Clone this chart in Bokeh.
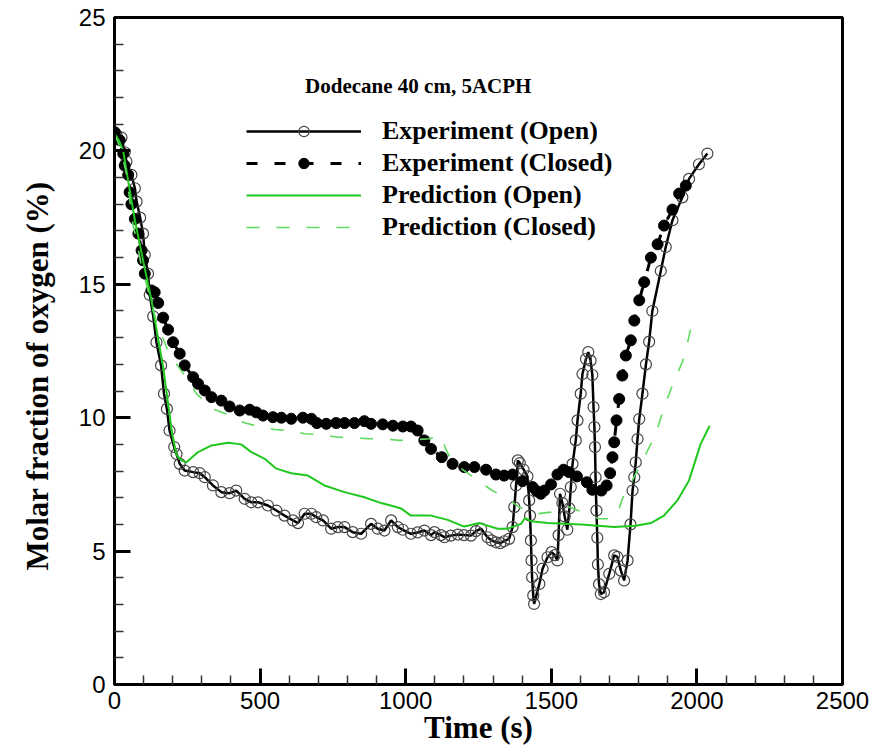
from bokeh.plotting import figure
from bokeh.models import Range1d, FixedTicker, Legend, LegendItem, Label, Title
from bokeh.embed import file_html
from bokeh.resources import INLINE

# ---------------- data ----------------
exp_open_t = [0, 7, 24, 35, 41, 58, 70, 76, 88, 98, 104, 115, 121, 133, 144, 160, 170, 180, 189, 205,
              213, 224, 241, 270, 293, 310, 338, 367, 395, 418, 447, 470, 493, 527, 556, 584, 613, 630,
              653, 676, 693, 716, 744, 767, 790, 818, 847, 881, 904, 927, 950, 973, 990, 1018, 1041,
              1064, 1087, 1099, 1121, 1133, 1155, 1179, 1200, 1224, 1241, 1259, 1281, 1295, 1310, 1325,
              1338, 1355, 1367, 1373, 1379, 1385, 1392, 1405, 1418, 1424, 1427, 1430, 1432, 1434, 1438,
              1441, 1459, 1470, 1487, 1501, 1512, 1521, 1525, 1530, 1538, 1546, 1555, 1562, 1567, 1573,
              1584, 1590, 1601, 1607, 1619, 1627, 1635, 1641, 1645, 1648, 1650, 1652, 1655, 1658, 1660,
              1664, 1670, 1681, 1699, 1716, 1727, 1739, 1750, 1762, 1772, 1779, 1785, 1790, 1796, 1802,
              1813, 1825, 1836, 1847, 1876, 1893, 1916, 1950, 1973, 2007, 2036]
exp_open_y = [20.65, 20.6, 20.5, 19.95, 19.6, 19.1, 18.6, 18.1, 17.5, 16.9, 16.1, 15.4, 14.6, 13.8, 12.83,
              11.96, 10.9, 10.33, 9.52, 8.9, 8.64, 8.27, 8.02, 7.96, 7.92, 7.77, 7.46, 7.21, 7.17, 7.27,
              6.96, 6.83, 6.83, 6.71, 6.52, 6.33, 6.15, 6.05, 6.4, 6.4, 6.27, 6.15, 5.84, 5.9, 5.9, 5.71,
              5.65, 6.02, 5.84, 5.77, 6.15, 5.9, 5.8, 5.65, 5.7, 5.77, 5.6, 5.71, 5.6, 5.52, 5.58, 5.62,
              5.6, 5.58, 5.75, 5.84, 5.52, 5.4, 5.33, 5.3, 5.37, 5.46, 5.9, 6.65, 7.46, 8.4, 8.3, 8.05,
              7.8, 6.9, 6.33, 5.4, 4.65, 4.02, 3.34, 3.02, 3.77, 4.34, 4.77, 4.96, 4.85, 4.65, 5.6, 7.15,
              6.8, 6.3, 5.8, 6.6, 7.4, 8.27, 9.15, 9.9, 10.9, 11.64, 12.2, 12.46, 12.14, 11.6, 10.4, 9.65,
              8.9, 7.77, 6.52, 5.5, 4.5, 3.76, 3.39, 3.46, 4.15, 4.84, 4.78, 4.27, 3.9, 4.65, 6.0, 7.27,
              7.77, 8.33, 9.2, 9.95, 10.9, 12.0, 12.85, 14.0, 15.5, 16.4, 17.4, 18.26, 18.95, 19.5, 19.9]

exp_closed_t = [1, 18, 30, 35, 47, 52, 58, 70, 82, 93, 98, 104, 127, 138, 150, 167, 184, 201, 224, 241,
                270, 287, 310, 333, 367, 395, 430, 464, 487, 510, 544, 573, 607, 647, 676, 695, 727,
                761, 790, 824, 858, 881, 921, 956, 990, 1018, 1041, 1064, 1087, 1124, 1161, 1201, 1236,
                1276, 1310, 1338, 1367, 1401, 1436, 1450, 1464, 1476, 1499, 1521, 1542, 1561, 1588, 1622,
                1641, 1672, 1690, 1702, 1710, 1716, 1724, 1733, 1744, 1756, 1773, 1785, 1802, 1819, 1842,
                1865, 1887, 1916, 1939, 1962]
exp_closed_y = [20.7, 20.4, 19.9, 19.45, 19.1, 18.45, 18.0, 17.45, 16.9, 16.27, 15.9, 15.4, 14.77, 14.7,
                14.3, 13.75, 13.3, 12.83, 12.4, 11.96, 11.52, 11.27, 11.02, 10.77, 10.64, 10.42, 10.27,
                10.3, 10.2, 10.08, 10.02, 10.0, 9.96, 10.0, 9.96, 9.8, 9.77, 9.8, 9.8, 9.8, 9.87, 9.77,
                9.75, 9.7, 9.67, 9.67, 9.52, 9.15, 8.83, 8.52, 8.27, 8.15, 8.15, 8.05, 7.87, 7.83, 7.87,
                7.62, 7.4, 7.25, 7.15, 7.27, 7.5, 7.87, 8.05, 7.96, 7.8, 7.58, 7.3, 7.27, 7.46, 7.92, 8.52,
                9.08, 9.9, 10.7, 11.58, 12.33, 12.9, 13.64, 14.4, 15.08, 16.0, 16.5, 17.2, 17.8, 18.4, 18.7]

pred_open_t = [0, 15, 30, 45, 70, 100, 127, 150, 167, 198, 213, 230, 247, 287, 333, 390, 435, 470, 516,
               556, 607, 664, 721, 790, 858, 916, 961, 984, 1018, 1087, 1144, 1201, 1253, 1316, 1350,
               1396, 1410, 1430, 1487, 1602, 1716, 1790, 1842, 1887, 1933, 1973, 2013, 2044]
pred_open_y = [20.65, 20.4, 20.0, 19.0, 17.4, 15.8, 14.4, 12.95, 11.9, 9.4, 8.6, 8.4, 8.33, 8.71, 8.96,
               9.06, 9.0, 8.71, 8.46, 8.09, 7.92, 7.83, 7.46, 7.21, 7.02, 6.8, 6.67, 6.6, 6.33, 6.33,
               6.17, 5.92, 6.05, 5.84, 5.84, 6.02, 6.24, 6.12, 6.05, 6.0, 5.9, 5.95, 6.05, 6.33, 6.9,
               7.65, 9.02, 9.7]

pred_closed_t = [0, 20, 40, 64, 75, 92, 120, 144, 184, 207, 253, 281, 338, 384, 441, 493, 550, 596, 653,
                 710, 767, 824, 870, 916, 978, 1024, 1081, 1121, 1135, 1150, 1184, 1247, 1293, 1350, 1390,
                 1420, 1453, 1499, 1530, 1561, 1607, 1640, 1664, 1710, 1730, 1744, 1767, 1802, 1825, 1853,
                 1870, 1887, 1905, 1927, 1950, 1967, 1979]
pred_closed_y = [20.65, 20.1, 19.2, 17.2, 16.7, 15.7, 14.6, 13.6, 12.5, 12.1, 11.4, 10.9, 10.33, 10.14,
                 9.83, 9.67, 9.56, 9.52, 9.4, 9.36, 9.27, 9.25, 9.21, 9.21, 9.15, 9.17, 9.21, 9.3, 8.9,
                 8.55, 8.15, 7.65, 7.3, 6.96, 6.65, 6.5, 6.4, 6.46, 6.6, 6.65, 6.46, 6.3, 6.21, 6.21, 6.5,
                 6.96, 7.4, 8.15, 8.64, 9.27, 9.77, 10.4, 10.9, 11.52, 12.08, 12.77, 13.35]

x_major = [0, 500, 1000, 1500, 2000, 2500]
x_minor = [v for v in range(0, 2501, 100) if v % 500]
y_major = [0, 5, 10, 15, 20, 25]
y_minor = [v for v in range(0, 26) if v % 5]

title_text = "Dodecane 40 cm, 5ACPH"
x_title = "Time (s)"
y_title = "Molar fraction of oxygen (%)"
labels = ["Experiment (Open)", "Experiment (Closed)", "Prediction (Open)", "Prediction (Closed)"]

# ---------------- figure ----------------
p = figure(width=886, height=750, output_backend="svg", toolbar_location=None,
           x_range=Range1d(0, 2500), y_range=Range1d(0, 25),
           min_border_left=113, min_border_right=44, min_border_top=17, min_border_bottom=66)
p.grid.visible = False
p.outline_line_color = "black"
p.outline_line_width = 3
p.background_fill_color = "white"
p.border_fill_color = "white"

for ax, major, minor in ((p.xaxis[0], x_major, x_minor), (p.yaxis[0], y_major, y_minor)):
    ax.ticker = FixedTicker(ticks=major, minor_ticks=minor)
    ax.axis_line_width = 3
    ax.axis_line_color = "black"
    ax.major_tick_in = 16
    ax.major_tick_out = 0
    ax.major_tick_line_width = 3
    ax.minor_tick_in = 9
    ax.minor_tick_out = 0
    ax.minor_tick_line_width = 1.5
    ax.minor_tick_line_color = "#333333"
    ax.major_label_text_font = "Liberation Sans"
    ax.major_label_text_font_size = "24px"
    ax.major_label_text_color = "black"
    ax.axis_label_text_font = "Liberation Serif"
    ax.axis_label_text_font_style = "bold"
    ax.axis_label_text_font_size = "31px"
    ax.axis_label_text_color = "black"
p.xaxis[0].major_label_standoff = 7
p.yaxis[0].major_label_standoff = 9
p.xaxis[0].axis_label = x_title
p.xaxis[0].axis_label_standoff = -2

p.add_layout(Title(text=y_title, align="left", vertical_align="top", offset=114, standoff=38,
                   text_font="Liberation Serif", text_font_style="bold",
                   text_font_size="31px", text_color="black"), "left")

BLACK = "black"
G1 = "#1fc71f"
G2 = "#5fda5f"

l1 = p.line(exp_open_t, exp_open_y, line_color=BLACK, line_width=2.5)
s1 = p.scatter(exp_open_t, exp_open_y, marker="circle", size=11, fill_color=None,
               line_color="#444444", line_width=1.2)
l2 = p.line(exp_closed_t, exp_closed_y, line_color=BLACK, line_width=3, line_dash="11 17")
s2 = p.scatter(exp_closed_t, exp_closed_y, marker="circle", size=11, fill_color=BLACK,
               line_color=BLACK)
l3 = p.line(pred_open_t, pred_open_y, line_color=G1, line_width=2)
l4 = p.line(pred_closed_t, pred_closed_y, line_color=G2, line_width=1.6, line_dash="13 17")

legend = Legend(items=[LegendItem(label=labels[0], renderers=[l1, s1]),
                       LegendItem(label=labels[1], renderers=[l2, s2]),
                       LegendItem(label=labels[2], renderers=[l3]),
                       LegendItem(label=labels[3], renderers=[l4])],
                location=(132, 442), orientation="vertical",
                glyph_width=115, glyph_height=26, label_height=26, spacing=2,
                label_standoff=21, padding=0, margin=0,
                border_line_color=None, background_fill_alpha=0,
                label_text_font="Liberation Serif", label_text_font_style="bold",
                label_text_font_size="26px", label_text_color="black")
p.add_layout(legend, "center")

p.add_layout(Label(x=1043, y=22.45, text=title_text, text_align="center", text_baseline="middle",
                   text_font="Liberation Serif", text_font_style="bold", text_font_size="21px",
                   text_color="black"))

open("out.html", "w").write(file_html(p, INLINE))
